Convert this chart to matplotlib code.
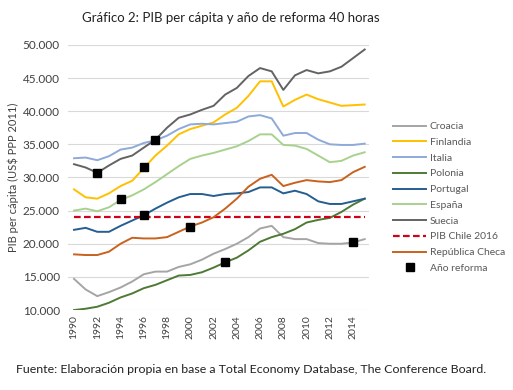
import matplotlib.pyplot as plt
from matplotlib.ticker import FuncFormatter

plt.rcParams['font.family'] = ['Lato', 'DejaVu Sans']

years = list(range(1990, 2016))

croacia = [14700, 13100, 12100, 12700, 13400, 14300, 15400, 15800, 15800, 16500,
           16900, 17600, 18500, 19200, 20000, 21000, 22300, 22700, 21000, 20700,
           20700, 20100, 20000, 20000, 20200, 20700]
finlandia = [28200, 27000, 26800, 27600, 28700, 29500, 31400, 33300, 34800, 36500,
             37300, 37800, 38300, 39500, 40500, 42300, 44500, 44500, 40700, 41700,
             42500, 41800, 41300, 40800, 40900, 41000]
italia = [32900, 33000, 32600, 33200, 34200, 34500, 35200, 35600, 36300, 37300,
          38000, 38100, 38000, 38200, 38400, 39200, 39400, 38900, 36300, 36700,
          36700, 35700, 35000, 34900, 34900, 35100]
polonia = [10000, 10200, 10500, 11100, 11900, 12500, 13300, 13800, 14500, 15200,
           15300, 15700, 16400, 17200, 17900, 19000, 20300, 21000, 21500, 22200,
           23200, 23600, 23900, 24800, 25900, 26800]
portugal = [22100, 22400, 21800, 21800, 22700, 23500, 24300, 25300, 26200, 27000,
            27500, 27500, 27200, 27500, 27600, 27800, 28500, 28500, 27600, 28000,
            27500, 26400, 26000, 26000, 26400, 26800]
espana = [25000, 25300, 24900, 25500, 26600, 27300, 28200, 29300, 30500, 31700,
          32800, 33300, 33700, 34200, 34700, 35500, 36500, 36500, 34900, 34800,
          34300, 33300, 32300, 32500, 33300, 33800]
suecia = [32000, 31500, 30700, 31800, 32800, 33300, 34500, 35700, 37500, 39000,
          39500, 40200, 40800, 42500, 43500, 45300, 46500, 46000, 43200, 45400,
          46200, 45700, 46000, 46700, 48000, 49300]
rep_checa = [18400, 18300, 18300, 18800, 20000, 20900, 20800, 20800, 21000, 21800,
             22600, 23200, 24000, 25300, 26800, 28600, 29800, 30400, 28700, 29200,
             29600, 29400, 29300, 29600, 30800, 31600]
chile_2016 = 24000

reforma_x = [1992, 1994, 1996, 1996, 1997, 2000, 2003, 2014]
reforma_y = [30700, 26700, 31600, 24400, 35700, 22600, 17200, 20300]

fig = plt.figure(figsize=(5.13, 3.9), dpi=100)
ax = fig.add_axes([0.133, 0.205, 0.587, 0.68])

lw = 1.4
ax.plot(years, croacia, color='#a5a5a5', lw=lw, label='Croacia')
ax.plot(years, finlandia, color='#ffc000', lw=lw, label='Finlandia')
ax.plot(years, italia, color='#8eaad8', lw=lw, label='Italia')
ax.plot(years, polonia, color='#4e7a35', lw=lw, label='Polonia')
ax.plot(years, portugal, color='#255e91', lw=lw, label='Portugal')
ax.plot(years, espana, color='#a9d18e', lw=lw, label='España')
ax.plot(years, suecia, color='#636363', lw=lw, label='Suecia')
ax.plot(years, [chile_2016] * len(years), color='#d0021b', lw=1.6, ls=(0, (3, 1.5)),
        label='PIB Chile 2016')
ax.plot(years, rep_checa, color='#c8621e', lw=lw, label='República Checa')
ax.plot(reforma_x, reforma_y, ls='none', marker='s', ms=5.5, color='black',
        label='Año reforma', zorder=5)

ax.set_xlim(1989.5, 2015.4)
ax.set_ylim(10000, 50000)
ax.set_yticks(range(10000, 50001, 5000))
ax.yaxis.set_major_formatter(FuncFormatter(lambda v, p: f'{int(v):,}'.replace(',', '.')))
ax.set_xticks(range(1990, 2015, 2))
ax.tick_params(axis='x', labelrotation=90, labelsize=7.5, length=0, colors='#404040')
ax.tick_params(axis='y', labelsize=8.5, length=0, colors='#404040', pad=6)
ax.grid(axis='y', color='#d9d9d9', lw=0.8)
ax.set_axisbelow(True)
for s in ax.spines.values():
    s.set_visible(False)

ax.set_ylabel('PIB per cápita (US$ PPP 2011)', fontsize=8, color='#404040', labelpad=3)

fig.text(0.45, 0.953, 'Gráfico 2: PIB per cápita y año de reforma 40 horas',
         ha='center', va='center', fontsize=9.5, color='#222222')
fig.text(0.49, 0.052, 'Fuente: Elaboración propia en base a Total Economy Database, The Conference Board.',
         ha='center', va='center', fontsize=8.9, color='#222222')

leg = ax.legend(loc='upper left', bbox_to_anchor=(1.065, 0.725), frameon=False,
                fontsize=7.5, handlelength=3.2, labelspacing=0.62, handletextpad=0.3,
                borderaxespad=0)
for t in leg.get_texts():
    t.set_color('#595959')

fig.savefig('out.png', dpi=100)
